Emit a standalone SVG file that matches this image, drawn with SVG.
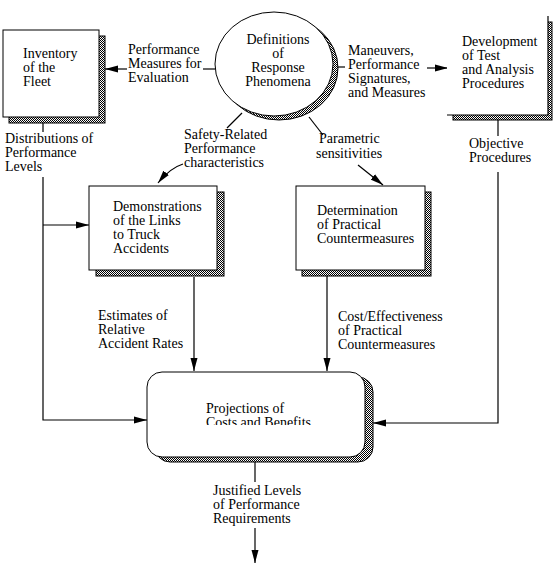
<svg xmlns="http://www.w3.org/2000/svg" width="556" height="569" viewBox="0 0 556 569">
<style>
text{font-family:"Liberation Serif","Times New Roman",serif;font-size:14px;fill:#000}
.box{fill:#fff;stroke:#000;stroke-width:1}
.sh{fill:url(#hatch);stroke:#000;stroke-width:1}
.ln{fill:none;stroke:#000;stroke-width:1.2}
.arr{marker-end:url(#ah)}
</style>
<defs>
<pattern id="hatch" width="2" height="2" patternUnits="userSpaceOnUse">
<rect width="2" height="2" fill="#fff"/>
<rect width="1" height="1" fill="#000"/>
<rect x="1" y="1" width="1" height="1" fill="#000"/>
</pattern>
<marker id="ah" markerWidth="14" markerHeight="8" refX="13" refY="4" orient="auto" markerUnits="userSpaceOnUse">
<path d="M0,0.5 L13,4 L0,7.5 z" fill="#000"/>
</marker>
<clipPath id="projclip"><rect x="140" y="370" width="240" height="55"/></clipPath>
</defs>

<g id="connectors">
<line class="ln" x1="215" y1="69" x2="203" y2="69"/>
<line class="ln arr" x1="127" y1="69" x2="105" y2="69"/>
<line class="ln" x1="336" y1="67" x2="345" y2="67"/>
<line class="ln arr" x1="427" y1="68" x2="448" y2="68"/>
<line class="ln" x1="242" y1="113" x2="227" y2="128"/>
<path class="ln arr" d="M183,164 Q170,168 158,183"/>
<line class="ln" x1="309" y1="117" x2="323" y2="135"/>
<line class="ln arr" x1="358" y1="165" x2="383" y2="185"/>
<line class="ln" x1="43" y1="123" x2="43" y2="132"/>
<polyline class="ln arr" points="43,177 43,420 147,420"/>
<line class="ln arr" x1="43" y1="225" x2="89" y2="225"/>
<line class="ln" x1="498" y1="120" x2="498" y2="136"/>
<polyline class="ln arr" points="498,172 498,423 373,423"/>
<line class="ln arr" x1="194" y1="277" x2="194" y2="371"/>
<line class="ln arr" x1="327" y1="276" x2="327" y2="371"/>
<line class="ln" x1="255" y1="462" x2="255" y2="482"/>
<line class="ln arr" x1="255" y1="528" x2="255" y2="563"/>
</g>

<g id="labels">
<text x="128" y="54">Performance</text>
<text x="128" y="68">Measures for</text>
<text x="128" y="82">Evaluation</text>
<text x="348" y="55">Maneuvers,</text>
<text x="348" y="69">Performance</text>
<text x="348" y="83">Signatures,</text>
<text x="348" y="97">and Measures</text>
<text x="184" y="139">Safety-Related</text>
<text x="184" y="153">Performance</text>
<text x="184" y="167">characteristics</text>
<text x="319" y="143">Parametric</text>
<text x="316" y="158">sensitivities</text>
<text x="5" y="143">Distributions of</text>
<text x="5" y="157">Performance</text>
<text x="5" y="171">Levels</text>
<text x="469" y="148">Objective</text>
<text x="469" y="162">Procedures</text>
<text x="98" y="320">Estimates of</text>
<text x="98" y="334">Relative</text>
<text x="98" y="348">Accident Rates</text>
<text x="338" y="321">Cost/Effectiveness</text>
<text x="338" y="335">of Practical</text>
<text x="338" y="349">Countermeasures</text>
<text x="213" y="495">Justified Levels</text>
<text x="213" y="509">of Performance</text>
<text x="213" y="523">Requirements</text>
</g>

<g id="inventory">
<rect class="sh" x="9" y="36" width="96" height="87"/>
<rect class="box" x="3" y="30" width="96" height="87"/>
<text x="23" y="58">Inventory</text>
<text x="23" y="72">of the</text>
<text x="23" y="86">Fleet</text>
</g>

<g id="definitions">
<ellipse class="sh" cx="279" cy="68" rx="59" ry="52"/>
<ellipse class="box" cx="274" cy="64" rx="59" ry="52"/>
<text x="278" y="44" text-anchor="middle">Definitions</text>
<text x="278" y="58" text-anchor="middle">of</text>
<text x="278" y="72" text-anchor="middle">Response</text>
<text x="278" y="86" text-anchor="middle">Phenomena</text>
</g>

<g id="development">
<rect class="sh" x="453" y="22" width="99" height="98"/>
<rect x="447" y="16" width="101" height="99" fill="#fff"/>
<polyline class="ln" points="548,16 548,115 447,115" stroke-width="1"/>
<text x="462" y="46">Development</text>
<text x="462" y="60">of Test</text>
<text x="462" y="74">and Analysis</text>
<text x="462" y="88">Procedures</text>
</g>

<g id="demonstrations">
<rect class="sh" x="96" y="192" width="128" height="84"/>
<rect class="box" x="89" y="186" width="128" height="84"/>
<text x="113" y="211">Demonstrations</text>
<text x="113" y="225">of the Links</text>
<text x="113" y="239">to Truck</text>
<text x="113" y="253">Accidents</text>
</g>

<g id="determination">
<rect class="sh" x="302" y="192" width="129" height="84"/>
<rect class="box" x="296" y="186" width="129" height="84"/>
<text x="317" y="215">Determination</text>
<text x="317" y="229">of Practical</text>
<text x="317" y="243">Countermeasures</text>
</g>

<g id="projections">
<rect class="sh" x="155" y="377" width="218" height="85" rx="15"/>
<rect class="box" x="147" y="372" width="218" height="85" rx="15"/>
<g clip-path="url(#projclip)">
<text x="206" y="413">Projections of</text>
<text x="206" y="427">Costs and Benefits</text>
</g>
</g>
</svg>
